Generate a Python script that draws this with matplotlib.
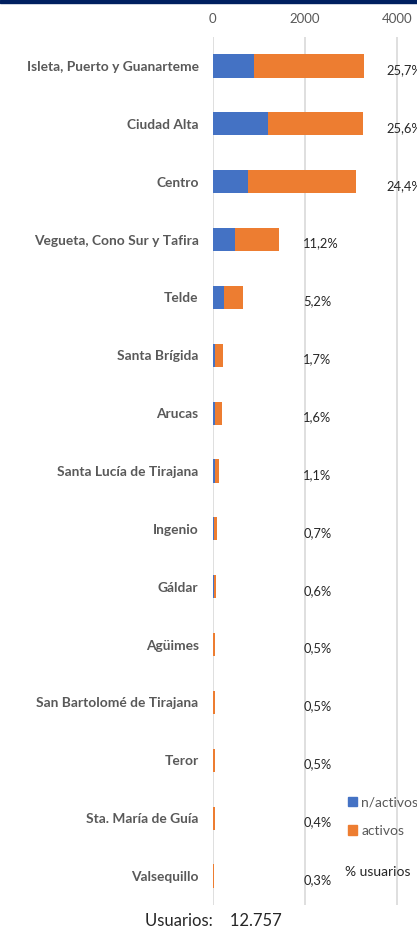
import matplotlib.pyplot as plt
from matplotlib.patches import Patch, Rectangle

plt.rcParams['font.family'] = ['Lato', 'DejaVu Sans']

zonas = ['Isleta, Puerto y Guanarteme', 'Ciudad Alta', 'Centro',
         'Vegueta, Cono Sur y Tafira', 'Telde', 'Santa Brígida', 'Arucas',
         'Santa Lucía de Tirajana', 'Ingenio', 'Gáldar', 'Agüimes',
         'San Bartolomé de Tirajana', 'Teror', 'Sta. María de Guía',
         'Valsequillo']
no_activos = [897, 1200, 761, 486, 256, 61, 60, 45, 35, 40, 10, 8, 8, 6, 5]
activos = [2383, 2047, 2352, 943, 407, 156, 144, 95, 54, 37, 54, 56, 56, 45, 33]
pct_labels = ['25,7%', '25,6%', '24,4%', '11,2%', '5,2%', '1,7%', '1,6%',
              '1,1%', '0,7%', '0,6%', '0,5%', '0,5%', '0,5%', '0,4%', '0,3%']
total_usuarios = '12.757'

blue = '#4472C4'
orange = '#ED7D31'
gray = '#595959'

fig = plt.figure(figsize=(4.17, 9.32), dpi=100)
fig.patches.append(Rectangle((0, 0.9968), 1, 0.0032, transform=fig.transFigure,
                             color='#002060', zorder=10))

ax = fig.add_axes([0.5096, 0.029, 0.4904, 0.9313])
y = list(range(len(zonas)))
ax.barh(y, no_activos, height=0.4, color=blue, zorder=3)
ax.barh(y, activos, left=no_activos, height=0.4, color=orange, zorder=3)

for i, lab in enumerate(pct_labels):
    tot = no_activos[i] + activos[i]
    xl = 3750 if tot > 2000 else 1960
    ax.text(xl, i + 0.07, lab, ha='left', va='center', fontsize=9.3,
            color='#262626', clip_on=False)

ax.set_ylim(len(zonas) - 0.5, -0.5)
ax.set_xlim(0, 4422)
ax.set_xticks([0, 2000, 4000])
ax.xaxis.tick_top()
ax.tick_params(axis='x', length=0, pad=9, labelsize=9.5, labelcolor=gray)
ax.set_yticks(y)
ax.set_yticklabels(zonas, fontsize=9.9, fontweight='bold', color=gray)
ax.tick_params(axis='y', length=0, pad=10)
ax.grid(axis='x', color='#d9d9d9', linewidth=1.2, zorder=0)
for s in ax.spines.values():
    s.set_visible(False)

leg = fig.legend(handles=[Patch(color=blue), Patch(color=orange)],
                 labels=['n/activos', 'activos'], loc='upper left',
                 bbox_to_anchor=(0.805, 0.159), frameon=False, fontsize=10,
                 handlelength=0.65, handleheight=0.65, handletextpad=0.3,
                 labelspacing=1.2, labelcolor=gray)
fig.text(0.827, 0.064, '% usuarios', fontsize=10, color='#262626', va='center')

fig.text(0.512, 0.012, 'Usuarios:    ' + total_usuarios, ha='center',
         va='center', fontsize=12, color='#262626')

fig.savefig('out.png', dpi=100)
